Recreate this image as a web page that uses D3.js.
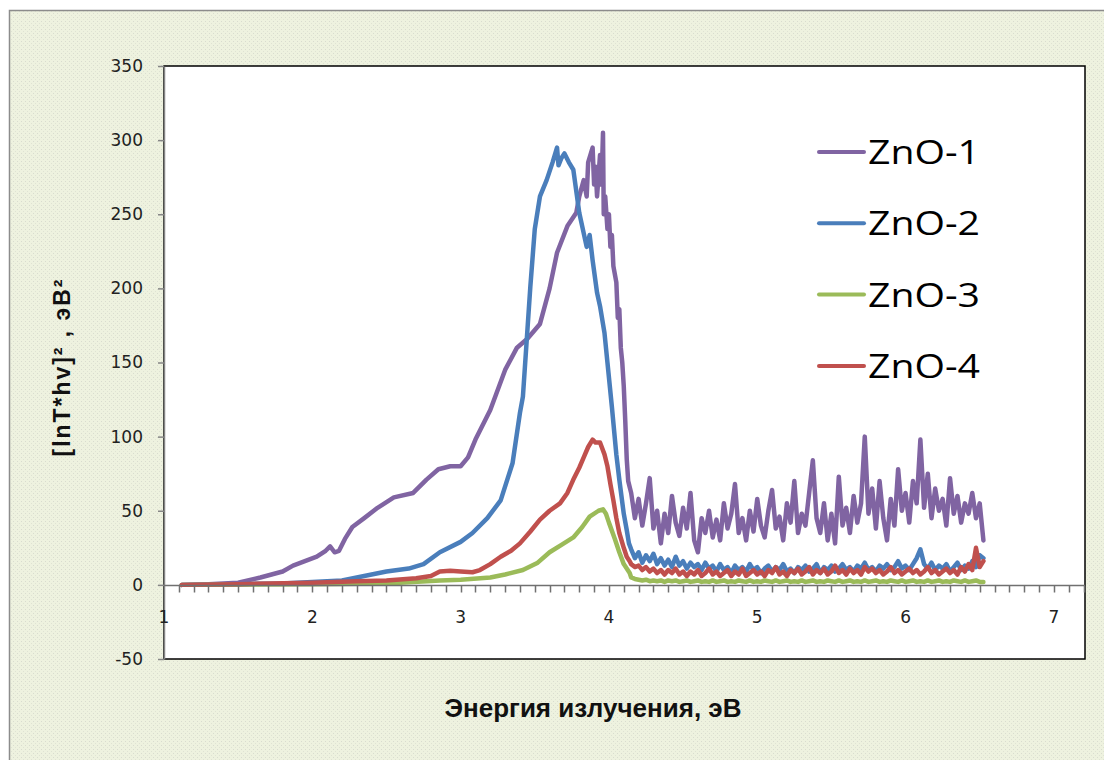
<!DOCTYPE html>
<html>
<head>
<meta charset="utf-8">
<title>ZnO spectra</title>
<style>body{margin:0;background:#fff;overflow:hidden} svg{display:block}</style>
</head>
<body>
<svg width="1104" height="760" id="mainsvg"></svg>
<script src="https://cdn.jsdelivr.net/npm/d3@7"></script>
<script>
const seriesNames = ["ZnO-1", "ZnO-2", "ZnO-3", "ZnO-4"];
const seriesColors = ["#8064a2", "#4a7ebb", "#9bbb59", "#c0504d"];
const xTicks = [1, 2, 3, 4, 5, 6, 7];
const yTicks = [-50, 0, 50, 100, 150, 200, 250, 300, 350];

// smooth part of every curve, [eV, value]
const head1 = [[1.12,0],[1.3,0.5],[1.5,1.5],[1.65,5],[1.8,9],[1.87,13],[1.95,16],[2.03,19],[2.09,23],[2.12,26],[2.15,22],[2.18,23],[2.22,31],[2.27,39],[2.35,45],[2.44,52],[2.55,59],[2.68,62],[2.77,71],[2.85,78],[2.93,80],[3.0,80],[3.05,86],[3.1,98],[3.2,118],[3.3,145],[3.38,160],[3.45,166],[3.535,176],[3.6,200],[3.65,224],[3.72,242],[3.78,251],[3.8,262],[3.83,273],[3.85,262],[3.86,285],[3.89,295],[3.9,270],[3.91,282],[3.92,262],[3.94,290],[3.95,270],[3.96,305],[3.965,250],[3.975,262],[3.99,240],[4.0,250],[4.01,228],[4.02,236],[4.03,215],[4.05,204],[4.06,180],[4.07,186],[4.08,160],[4.09,150],[4.10,134],[4.11,111],[4.12,85],[4.13,70]];
const head2 = [[1.12,0],[1.5,0.5],[1.8,1],[2.0,2],[2.2,3],[2.35,6],[2.5,9],[2.65,11],[2.75,14],[2.86,22],[3.0,29],[3.08,35],[3.18,45],[3.27,57],[3.35,82],[3.40,116],[3.42,127],[3.47,201],[3.5,240],[3.535,262],[3.58,273],[3.62,285],[3.65,295],[3.66,283],[3.68,288],[3.70,291],[3.73,285],[3.76,280],[3.80,251],[3.85,228],[3.87,236],[3.89,219],[3.92,197],[3.94,188],[3.97,170],[3.99,150],[4.02,120],[4.05,88],[4.07,71],[4.10,48],[4.12,37],[4.135,28]];
const head3 = [[1.12,0],[2.0,0.5],[2.5,1],[2.86,3],[3.0,3.5],[3.2,5],[3.3,7],[3.42,10],[3.52,15],[3.6,22],[3.68,27],[3.76,32],[3.82,39],[3.87,46],[3.93,50],[3.96,51],[3.98,48],[4.0,42],[4.04,31],[4.07,22],[4.10,14],[4.14,8]];
const head4 = [[1.12,0],[1.5,0.5],[2.0,1.5],[2.3,2.5],[2.5,3],[2.7,4.5],[2.8,6],[2.86,9],[2.93,9.5],[3.0,9],[3.08,8.5],[3.13,10],[3.2,14],[3.27,19],[3.34,23],[3.40,28],[3.47,36],[3.535,44],[3.6,50],[3.67,55],[3.72,62],[3.76,71],[3.80,79],[3.83,86],[3.86,93],[3.89,98],[3.91,96],[3.94,96],[3.97,88],[3.99,80],[4.01,68],[4.03,57],[4.05,45],[4.07,35],[4.10,25],[4.12,19],[4.14,16]];

// noisy tail, shared energies
const tailE = [4.15,4.175,4.2,4.225,4.25,4.275,4.3,4.325,4.35,4.375,4.4,4.425,4.45,4.475,4.5,4.525,4.55,4.575,4.6,4.625,4.65,4.675,4.7,4.725,4.75,4.775,4.8,4.825,4.85,4.875,4.9,4.925,4.95,4.975,5.0,5.025,5.05,5.075,5.1,5.125,5.15,5.175,5.2,5.225,5.25,5.275,5.3,5.325,5.35,5.375,5.4,5.425,5.45,5.475,5.5,5.525,5.55,5.575,5.6,5.625,5.65,5.675,5.7,5.725,5.75,5.775,5.8,5.825,5.85,5.875,5.9,5.925,5.95,5.975,6.0,6.025,6.05,6.075,6.1,6.125,6.15,6.175,6.2,6.225,6.25,6.275,6.3,6.325,6.35,6.375,6.4,6.425,6.45,6.475,6.5,6.525];
const tail1 = [62,45,58,40,55,72,38,50,28,48,35,60,42,33,52,38,62,30,22,45,35,50,32,44,30,55,38,48,68,35,45,30,50,36,58,40,32,50,64,38,46,30,55,42,70,35,48,40,62,84,45,35,55,30,48,28,73,40,52,35,60,42,55,100,48,65,38,70,45,30,58,40,78,50,62,42,70,55,98,52,75,45,65,50,58,40,72,48,60,42,55,48,62,45,55,30];
const tail2 = [24,18,22,15,20,16,21,14,18,13,17,12,19,13,16,11,15,12,14,10,15,11,13,9,14,10,12,8,13,10,12,9,14,10,12,8,11,13,9,12,10,14,9,11,8,12,10,13,9,11,14,8,12,10,13,9,11,14,10,12,9,13,11,15,10,12,9,13,11,14,10,12,16,11,13,10,14,18,24,14,11,15,10,13,11,14,9,12,15,10,13,11,16,12,20,18];
const tail3 = [5,4,3.5,3,3.5,2.5,3,2.5,3,2,3,2.5,3,2,2.5,3,2,2.5,3,2,2.5,2,3,2,2.5,3,2,2.5,2,3,2.5,2,3,2,2.5,2,3,2.5,2,3,2,2.5,3,2,2.5,2,3,2,2.5,3,2,2.5,2,3,2.5,2,3,2,2.5,3,2,2.5,2,3,2,2.5,3,2,2.5,2,3,2.5,2,3,2,2.5,3,2,2.5,2,3,2,2.5,3,2,2.5,2,3,2.5,2,3,2,2.5,3,2,2];
const tail4 = [14,12,13,10,12,9,11,8,10,7,10,8,11,7,9,6,9,7,10,6,8,11,7,9,6,8,10,6,9,7,11,6,8,10,7,9,6,10,8,12,7,9,6,10,8,11,7,9,12,7,10,8,11,7,9,13,8,10,7,11,8,10,7,12,9,11,8,10,7,9,12,8,10,7,9,11,8,10,7,9,12,8,10,7,9,11,8,10,7,12,9,14,10,25,12,16];

const heads = [head1, head2, head3, head4];
const tails = [tail1, tail2, tail3, tail4];

const svg = d3.select("#mainsvg");
const plot = { left: 164, right: 1085, top: 66, bottom: 659 };

// background with a faint dotted texture
const defs = svg.append("defs");
const pat = defs.append("pattern").attr("id", "dots").attr("width", 4).attr("height", 4).attr("patternUnits", "userSpaceOnUse");
pat.append("rect").attr("width", 4).attr("height", 4).attr("fill", "#eef2df");
pat.append("rect").attr("x", 1).attr("y", 1).attr("width", 1).attr("height", 1).attr("fill", "#d9dccf");
pat.append("rect").attr("x", 3).attr("y", 3).attr("width", 1).attr("height", 1).attr("fill", "#dfe3d3");

svg.append("rect").attr("width", 1104).attr("height", 760).attr("fill", "#ffffff");
svg.append("rect").attr("x", 9.5).attr("y", 10.5).attr("width", 1200).attr("height", 1000)
  .attr("fill", "url(#dots)").attr("stroke", "#8c8c8c").attr("stroke-width", 1.5);

const x = d3.scaleLinear().domain([1, 7.21]).range([plot.left, plot.right]);
const y = d3.scaleLinear().domain([-50, 350]).range([plot.bottom, plot.top]);

svg.append("rect").attr("x", plot.left).attr("y", plot.top)
  .attr("width", plot.right - plot.left).attr("height", plot.bottom - plot.top)
  .attr("fill", "#ffffff").attr("stroke", "#000").attr("stroke-width", 1.5);

// y axis
const yAxis = svg.append("g").attr("transform", `translate(${plot.left},0)`)
  .call(d3.axisLeft(y).tickValues(yTicks).tickFormat(d => String(d)).tickSize(6).tickPadding(15).tickSizeOuter(0));
yAxis.select(".domain").attr("stroke", "#868686").attr("stroke-width", 1.5);
yAxis.selectAll(".tick line").attr("stroke", "#868686").attr("stroke-width", 1.5);
yAxis.selectAll("text").attr("font-family", "DejaVu Sans").attr("font-size", 17).attr("fill", "#222");

svg.append("g").selectAll("text").data(xTicks).join("text")
  .attr("x", d => x(d)).attr("y", y(0) + 38)
  .attr("text-anchor", "middle")
  .attr("font-family", "DejaVu Sans").attr("font-size", 17).attr("fill", "#222")
  .text(d => d);

// curves
const lineGen = d3.line().x(d => x(d[0])).y(d => y(d[1]));
heads.forEach((h, i) => {
  const pts = h.concat(tailE.map((e, j) => [e, tails[i][j]]));
  svg.append("path").datum(pts)
    .attr("fill", "none").attr("stroke", seriesColors[i]).attr("stroke-width", 4.5)
    .attr("stroke-linejoin", "round").attr("stroke-linecap", "round")
    .attr("d", lineGen);
});

// x axis crossing at zero, minor ticks every 0.1 (one path)
const y0 = Math.round(y(0)) + 0.5;
const minor = d3.range(11, 73).map(d => d / 10);
const tickPath = `M${plot.left},${y0}H${plot.right}` +
  minor.map(d => `M${Math.round(x(d)) + 0.5},${y0}v7`).join("");
svg.append("path").attr("d", tickPath)
  .attr("fill", "none").attr("stroke", "#707070").attr("stroke-width", 1.5);

// legend
const legend = svg.append("g");
seriesNames.forEach((name, i) => {
  const ly = 152 + i * 71.3;
  legend.append("line").attr("x1", 819).attr("x2", 864).attr("y1", ly).attr("y2", ly)
    .attr("stroke", seriesColors[i]).attr("stroke-width", 4).attr("stroke-linecap", "round");
  legend.append("text").attr("x", 868).attr("y", ly + 12)
    .attr("font-family", "Open Sans").attr("font-size", 32)
    .attr("textLength", 112).attr("lengthAdjust", "spacingAndGlyphs")
    .attr("fill", "#000").text(name);
});

// axis titles
svg.append("text").attr("x", 593).attr("y", 717).attr("text-anchor", "middle")
  .attr("font-family", "Liberation Sans").attr("font-weight", "bold").attr("font-size", 26)
  .attr("fill", "#111").text("Энергия излучения, эВ");

svg.append("text").attr("transform", "translate(70,368) rotate(-90)").attr("text-anchor", "middle")
  .attr("font-family", "Liberation Sans").attr("font-weight", "bold").attr("font-size", 23)
  .attr("textLength", 177).attr("lengthAdjust", "spacing")
  .attr("fill", "#111").text("[lnT*hv]²  ,  эВ²");
</script>
</body>
</html>
